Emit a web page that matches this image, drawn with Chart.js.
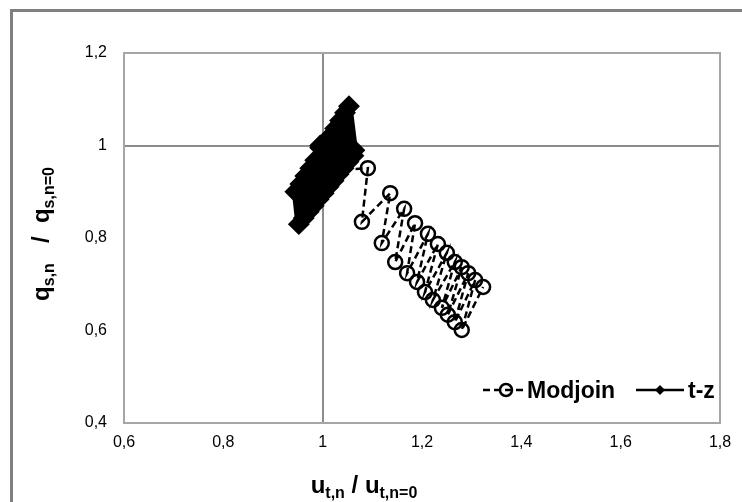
<!DOCTYPE html>
<html>
<head>
<meta charset="utf-8">
<script src="https://cdn.jsdelivr.net/npm/chart.js@4"></script>
<style>
  html, body { margin: 0; padding: 0; background: #fff; overflow: hidden; }
  #wrap { position: relative; width: 742px; height: 502px; }
  #frame { position: absolute; left: 10px; top: 9px; width: 800px; height: 600px; border: 3px solid #808080; }
  #myChart { position: absolute; left: 0; top: 0; }
</style>
</head>
<body>
<div id="wrap">
  <div id="frame"></div>
  <canvas id="myChart" width="742" height="502"></canvas>
</div>
<script>
// tick labels (decimal comma, as in the original)
const xTickLabels = ['0,6', '0,8', '1', '1,2', '1,4', '1,6', '1,8'];
const yTickLabels = ['0,4', '0,6', '0,8', '1', '1,2'];

// Modjoin: zig-zag between an upper and a lower row of points
const modjoinX = [1.000, 1.091, 1.079, 1.136, 1.119, 1.164, 1.146, 1.186, 1.170, 1.212, 1.190,
  1.232, 1.206, 1.250, 1.222, 1.266, 1.240, 1.280, 1.252, 1.293, 1.266, 1.307, 1.280, 1.323];
const modjoinY = [0.945, 0.951, 0.835, 0.897, 0.789, 0.863, 0.748, 0.832, 0.724, 0.809, 0.705,
  0.787, 0.683, 0.768, 0.666, 0.748, 0.649, 0.737, 0.634, 0.724, 0.618, 0.709, 0.601, 0.694];

// t-z: dense zig-zag, shows as a black band
const tzX = [0.995, 0.952, 0.945, 0.962, 0.955, 0.972, 0.965, 0.982, 0.975, 0.992, 0.985,
  1.002, 0.995, 1.012, 1.005, 1.022, 1.015, 1.032, 1.025, 1.042, 1.035, 1.052, 1.045, 1.062, 1.053, 1.064];
const tzY = [1.000, 0.830, 0.900, 0.843, 0.917, 0.857, 0.934, 0.870, 0.951, 0.884, 0.968,
  0.897, 0.995, 0.911, 1.002, 0.924, 1.020, 0.938, 1.037, 0.951, 1.054, 0.965, 1.071, 0.978, 1.085, 0.990];

const toPoints = (xs, ys) => xs.map((x, i) => ({ x: x, y: ys[i] }));

const FONT = "'Liberation Sans', Arial, sans-serif";

function drawParts(ctx, parts, cx, cy) {
  // parts: [text, size, dy]
  let total = 0;
  parts.forEach(p => {
    ctx.font = 'bold ' + p[1] + 'px ' + FONT;
    total += ctx.measureText(p[0]).width;
  });
  let x = cx - total / 2;
  parts.forEach(p => {
    ctx.font = 'bold ' + p[1] + 'px ' + FONT;
    ctx.fillText(p[0], x, cy + p[2]);
    x += ctx.measureText(p[0]).width;
  });
}

const extras = {
  id: 'extras',
  beforeDatasetsDraw(chart) {
    const ctx = chart.ctx, a = chart.chartArea;
    ctx.save();
    ctx.strokeStyle = '#a6a6a6';
    ctx.lineWidth = 2;
    ctx.strokeRect(a.left, a.top, a.right - a.left, a.bottom - a.top);
    ctx.restore();
  },
  afterDraw(chart) {
    const ctx = chart.ctx, a = chart.chartArea;
    ctx.save();
    ctx.fillStyle = '#000';
    ctx.textBaseline = 'alphabetic';
    ctx.textAlign = 'left';

    // x title
    drawParts(ctx, [['u', 24, 0], ['t,n', 16, 5], [' / ', 24, 0], ['u', 24, 0], ['t,n=0', 16, 5]], 364, 493);

    // y title (rotated)
    ctx.save();
    ctx.translate(49, 234);
    ctx.rotate(-Math.PI / 2);
    drawParts(ctx, [['q', 24, 0], ['s,n', 16, 5], ['   /  ', 24, 0], ['q', 24, 0], ['s,n=0', 16, 5]], 0, 0);
    ctx.restore();

    // legend, bottom right inside the plot
    const ly = a.bottom - 33;
    ctx.strokeStyle = '#000';
    ctx.lineWidth = 2.5;
    ctx.setLineDash([7, 4]);
    ctx.beginPath();
    ctx.moveTo(a.right - 237, ly);
    ctx.lineTo(a.right - 197, ly);
    ctx.stroke();
    ctx.setLineDash([]);
    ctx.beginPath();
    ctx.arc(a.right - 214, ly, 6, 0, Math.PI * 2);
    ctx.stroke();
    ctx.font = 'bold 23px ' + FONT;
    ctx.fillText('Modjoin', a.right - 193, ly + 8);

    ctx.lineWidth = 2.5;
    ctx.beginPath();
    ctx.moveTo(a.right - 84, ly);
    ctx.lineTo(a.right - 36, ly);
    ctx.stroke();
    ctx.beginPath();
    ctx.moveTo(a.right - 60, ly - 5);
    ctx.lineTo(a.right - 55, ly);
    ctx.lineTo(a.right - 60, ly + 5);
    ctx.lineTo(a.right - 65, ly);
    ctx.closePath();
    ctx.fill();
    ctx.fillText('t-z', a.right - 32, ly + 8);
    ctx.restore();
  }
};

const gridAtOne = (c) => (c.tick && Math.abs(c.tick.value - 1) < 1e-6) ? '#8c8c8c' : 'rgba(0,0,0,0)';

const ctx = document.getElementById('myChart').getContext('2d');
const myChart = new Chart(ctx, {
  type: 'scatter',
  data: {
    datasets: [
      {
        label: 'Modjoin',
        data: toPoints(modjoinX, modjoinY),
        showLine: true,
        borderColor: '#000',
        borderWidth: 2.5,
        borderDash: [7, 4],
        pointStyle: 'circle',
        pointRadius: 7,
        pointBorderWidth: 2.5,
        pointBorderColor: '#000',
        pointBackgroundColor: 'rgba(0,0,0,0)',
        order: 1,
      },
      {
        label: 't-z',
        data: toPoints(tzX, tzY),
        showLine: true,
        borderColor: '#000',
        borderWidth: 7,
        borderJoinStyle: 'round',
        pointStyle: 'rectRot',
        pointRadius: 6,
        pointBorderColor: '#000',
        pointBackgroundColor: '#000',
        order: 0,
      },
    ],
  },
  options: {
    responsive: false,
    animation: false,
    layout: { padding: { left: 0, top: 53, right: 22, bottom: 0 } },
    plugins: { legend: { display: false }, tooltip: { enabled: false } },
    scales: {
      x: {
        type: 'linear',
        min: 0.6,
        max: 1.8,
        afterFit: (scale) => { scale.height = 79; },
        border: { display: false },
        grid: { color: gridAtOne, lineWidth: 2, drawTicks: false },
        ticks: {
          stepSize: 0.2,
          padding: 10,
          color: '#000',
          font: { family: FONT, size: 16 },
          maxRotation: 0,
          callback: (v, i) => xTickLabels[i],
        },
      },
      y: {
        type: 'linear',
        min: 0.4,
        max: 1.2,
        afterFit: (scale) => { scale.width = 124; },
        border: { display: false },
        grid: { color: gridAtOne, lineWidth: 2, drawTicks: false },
        ticks: {
          stepSize: 0.2,
          padding: 17,
          color: '#000',
          font: { family: FONT, size: 16 },
          callback: (v, i) => yTickLabels[i],
        },
      },
    },
  },
  plugins: [extras],
});
</script>
</body>
</html>
